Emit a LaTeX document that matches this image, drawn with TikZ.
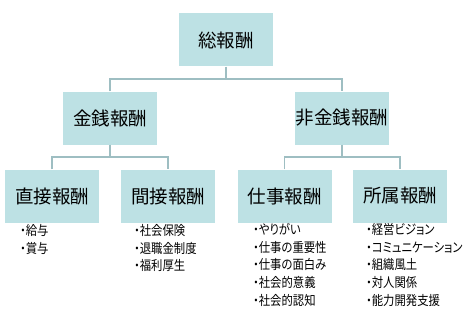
\documentclass[tikz,border=0pt]{standalone}
\usepackage{fontspec}
\newfontfamily\jp[RawFeature={+palt}]{Noto Sans CJK JP}
\newfontfamily\jpl[RawFeature={+palt},FakeStretch=0.86]{Noto Sans CJK JP}
\definecolor{boxfill}{HTML}{BDE1E4}
\definecolor{linec}{HTML}{9EBEC2}
\tikzset{
  x=1pt,y=-1pt,
  rbox/.style={fill=boxfill,draw=none,minimum width=94pt,minimum height=53pt,inner sep=0pt,font=\jp\fontsize{18.5}{18}\selectfont},
  conn/.style={draw=linec,line width=1.3pt},
  blist/.style={anchor=north west,inner sep=0pt,align=left,font=\jpl\fontsize{13.2}{17.8}\selectfont}
}
\begin{document}
\begin{tikzpicture}
\useasboundingbox (0,0) rectangle (463,321);
\node[rbox] (top) at (226,40) {総報酬};
\node[rbox] (mon) at (110,118) {金銭報酬};
\node[rbox] (non) at (342,118) {非金銭報酬};
\node[rbox] (dir) at (52,196) {直接報酬};
\node[rbox] (ind) at (168,196) {間接報酬};
\node[rbox] (job) at (284.5,196) {仕事報酬};
\node[rbox] (aff) at (400,196) {所属報酬};
\coordinate (j1) at (226,79);
\coordinate (j2) at (110,157);
\coordinate (j3) at (342,157);
\draw[conn] (top.south) -- (j1);
\draw[conn] (mon.north) |- (j1) -| (non.north);
\draw[conn] (mon.south) -- (j2);
\draw[conn] (dir.north) |- (j2) -| (ind.north);
\draw[conn] (non.south) -- (j3);
\draw[conn] (job.north) |- (j3) -| (aff.north);
\node[blist] (l1) at (20,224) {・給与\\・賞与};
\node[blist] (l2) at (134,224) {・社会保険\\・退職金制度\\・福利厚生};
\node[blist] (l3) at (253,223) {・やりがい\\・仕事の重要性\\・仕事の面白み\\・社会的意義\\・社会的認知};
\node[blist] (l4) at (366,223) {・経営ビジョン\\・コミュニケーション\\・組織風土\\・対人関係\\・能力開発支援};
\end{tikzpicture}
\end{document}
